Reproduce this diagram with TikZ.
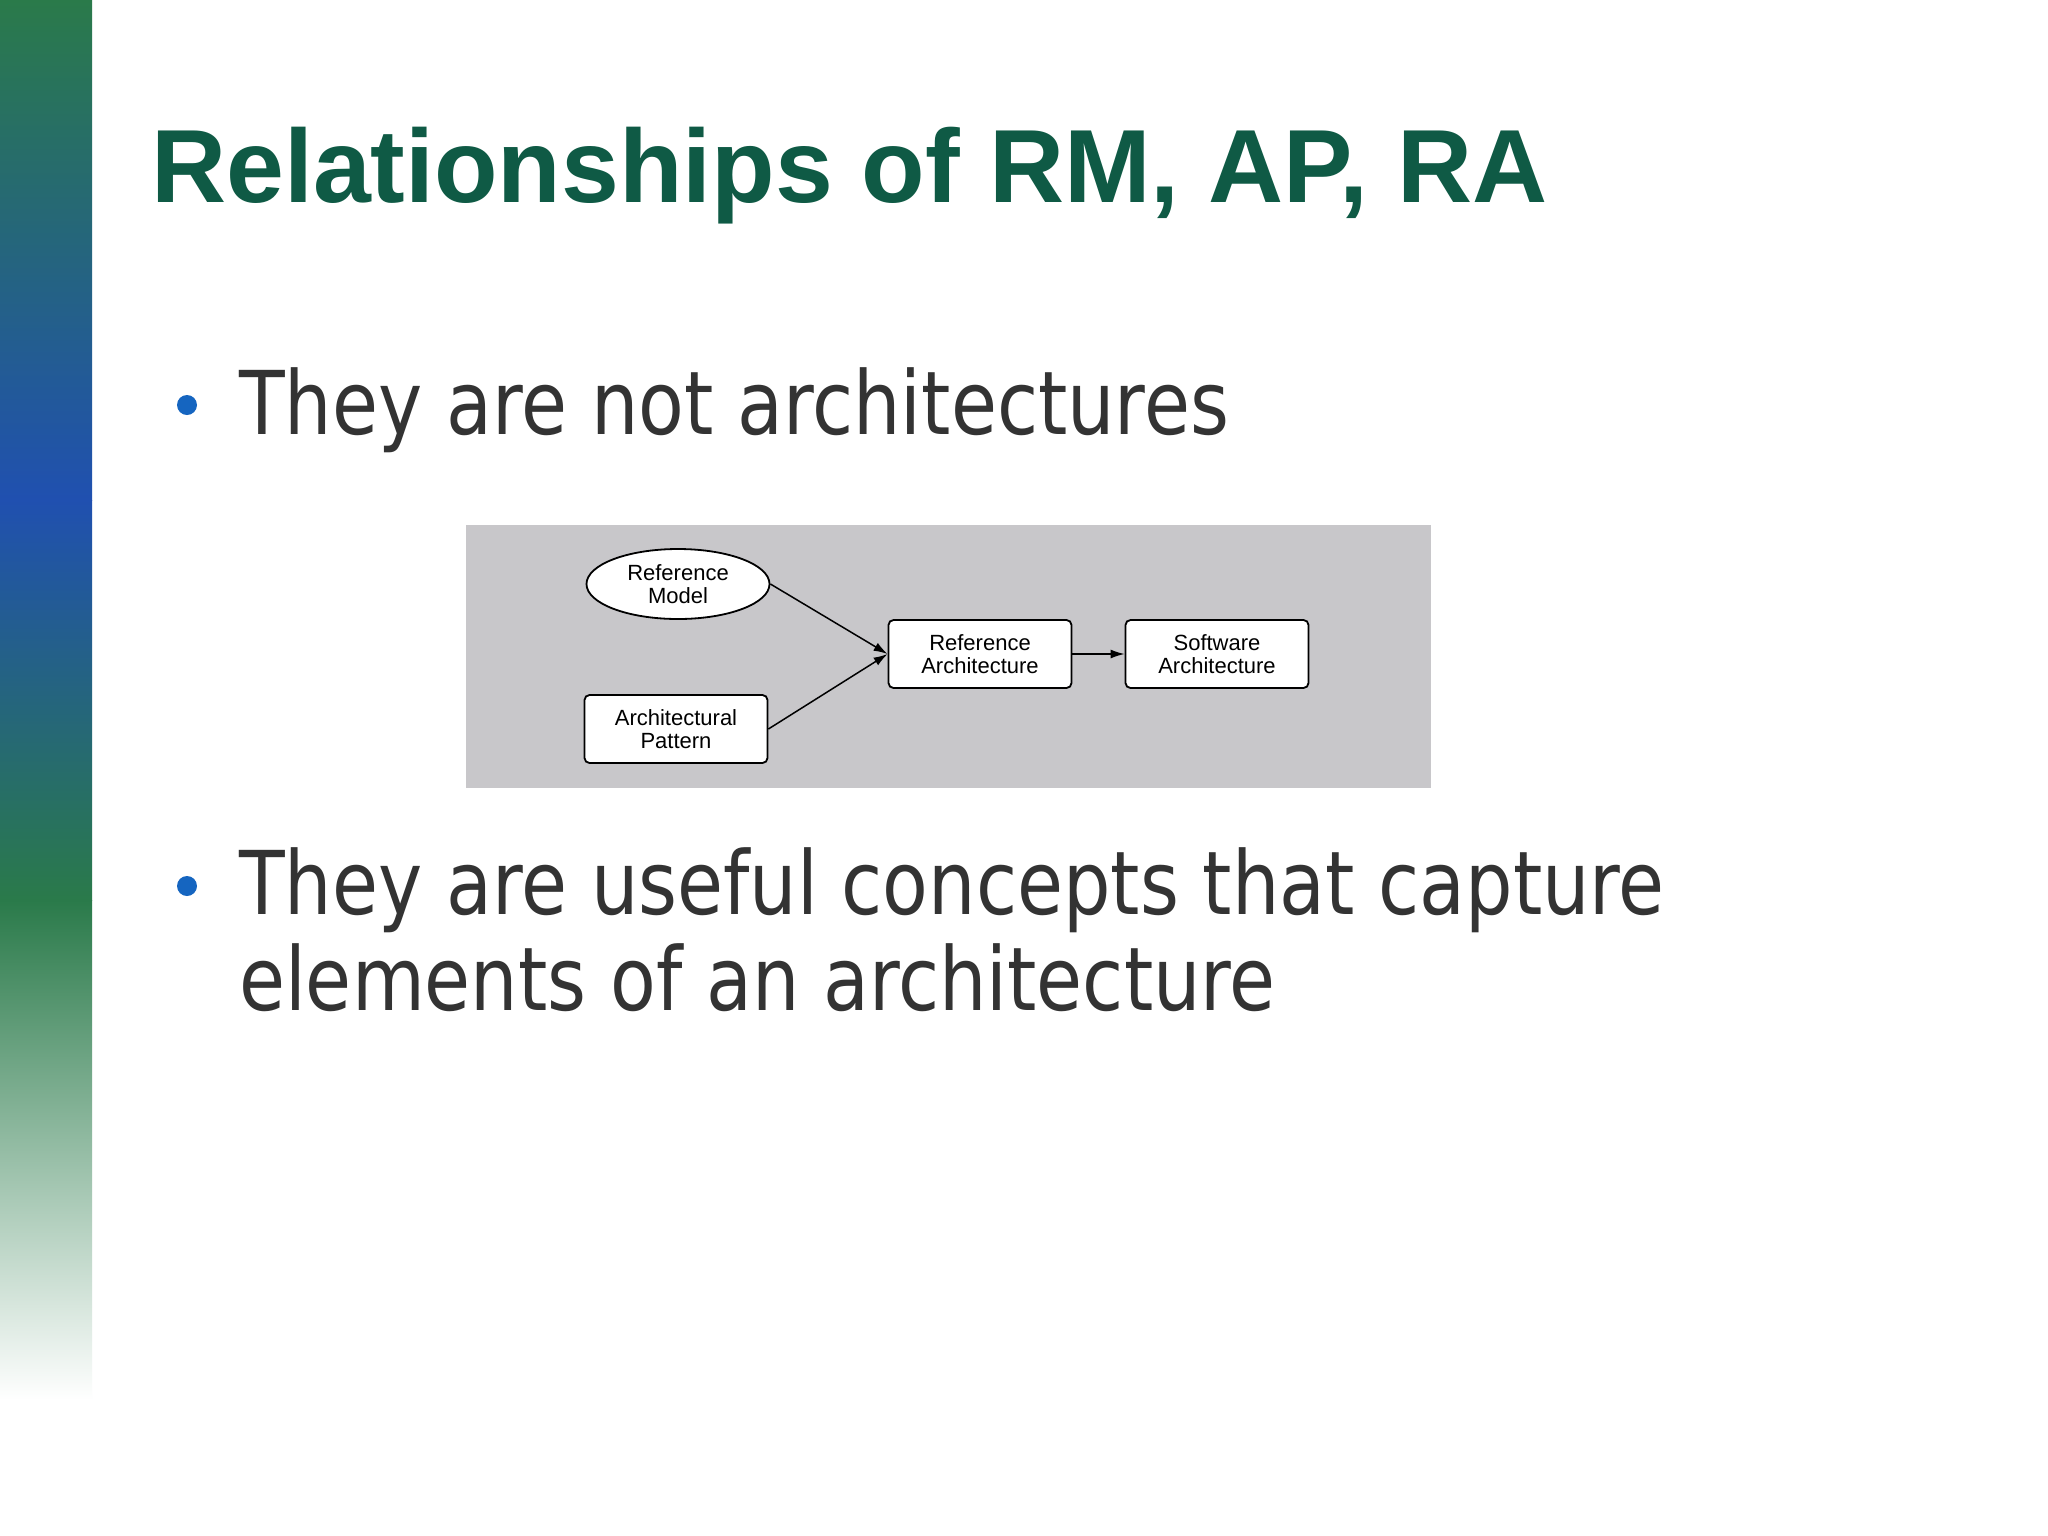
\documentclass[tikz,border=0pt]{standalone}
\usepackage{fontspec}
\setmainfont{DejaVu Sans}
\newfontfamily\bodyfont[FakeStretch=0.85]{DejaVu Sans}
\newfontfamily\arial{Liberation Sans}
\usetikzlibrary{shapes.geometric,arrows.meta}
\definecolor{titlegreen}{HTML}{0F5A45}
\definecolor{bodygrey}{HTML}{333333}
\definecolor{bulletblue}{HTML}{1565C0}
\definecolor{panel}{HTML}{C8C7CA}
\definecolor{stripA}{HTML}{2A7A4A}
\definecolor{stripB}{HTML}{2050B0}
\tikzset{
 box/.style={draw,line width=1.8pt,fill=white,rounded corners=5pt,minimum width=183pt,minimum height=68pt,align=center,font=\arial\fontsize{22}{23}\selectfont,inner sep=0pt},
 oval/.style={draw,line width=1.8pt,fill=white,ellipse,minimum width=183pt,minimum height=70pt,align=center,font=\arial\fontsize{22}{23}\selectfont,inner sep=0pt},
 conn/.style={line width=1.5pt,-{Latex[length=14pt,width=9pt]}},
 bodytext/.style={anchor=base west,text=bodygrey,font=\bodyfont\fontsize{88}{96}\selectfont,inner sep=0pt},
 bul/.style={circle,fill=bulletblue,minimum size=20pt,inner sep=0pt}
}
\begin{document}
\begin{tikzpicture}[x=1pt,y=-1pt]
\useasboundingbox (0,0) rectangle (2048,1535);
\fill[white] (0,0) rectangle (2048,1535);
\shade[top color=stripA,bottom color=stripB] (0,0) rectangle (92,500);
\shade[top color=stripB,bottom color=stripA] (0,500) rectangle (92,900);
\shade[top color=stripA,bottom color=white] (0,900) rectangle (92,1400);
\node[anchor=base west,text=titlegreen,font=\arial\bfseries\fontsize{104}{110}\selectfont,inner sep=0pt] (title) at (151,202) {Relationships of RM, AP, RA};
\node[bul] (b1) at (187,405) {};
\node[bodytext] (t1) at (239,434) {They are not architectures};
\fill[panel] (466,525) rectangle (1431,788);
\node[oval] (rm) at (678,584) {Reference\\Model};
\node[box] (ap) at (676,729) {Architectural\\Pattern};
\node[box] (ra) at (980,654) {Reference\\Architecture};
\node[box] (sa) at (1217,654) {Software\\Architecture};
\draw[conn] (rm.east) -- (ra.west);
\draw[conn] (ap.east) -- (ra.west);
\draw[conn] (ra) -- (sa);
\node[bul] (b2) at (187,886) {};
\node[bodytext] (t2) at (239,914) {They are useful concepts that capture};
\node[bodytext] (t3) at (239,1010) {elements of an architecture};
\end{tikzpicture}
\end{document}
